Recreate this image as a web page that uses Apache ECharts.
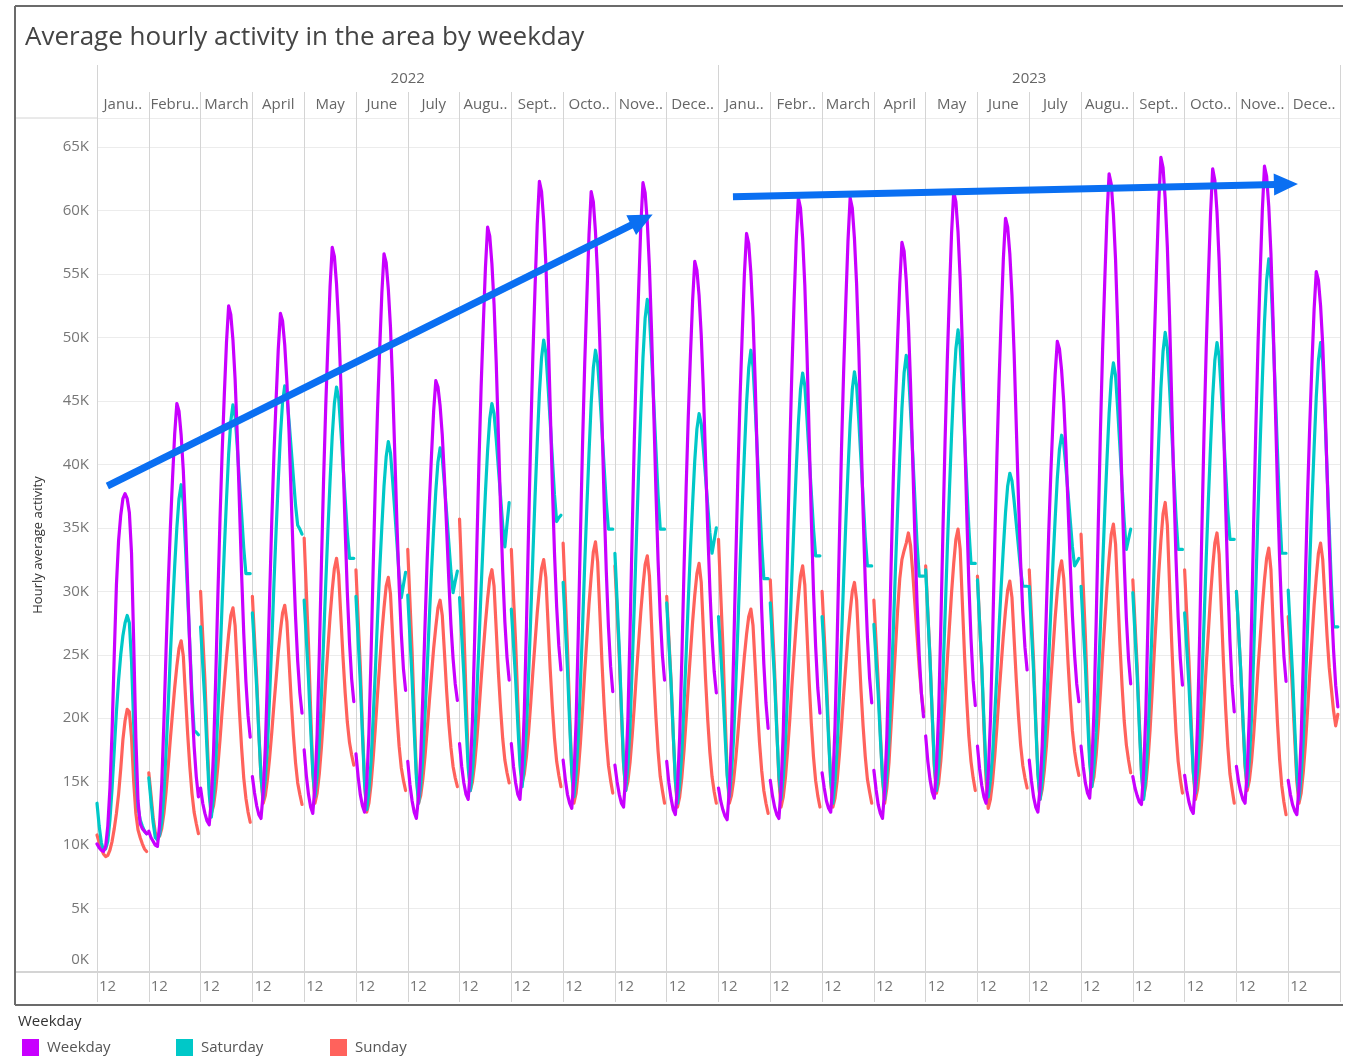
<!DOCTYPE html>
<html>
<head>
<meta charset="utf-8">
<script src="https://cdn.jsdelivr.net/npm/echarts/dist/echarts.min.js"></script>
<style>
html,body{margin:0;padding:0;background:#ffffff;}
#chart{width:1351px;height:1057px;}
</style>
</head>
<body>
<div id="chart"></div>
<script>
// ---------- DATA (values in thousands) ----------
const yearLabels = ['2022', '2023'];
const monthLabels = ['Janu..','Febru..','March','April','May','June','July','Augu..','Sept..','Octo..','Nove..','Dece..',
                     'Janu..','Febr..','March','April','May','June','July','Augu..','Sept..','Octo..','Nove..','Dece..'];
const hourTickLabel = '12';
const seriesNames = ['Weekday', 'Saturday', 'Sunday'];

// one row per month panel, 24 hourly values (hour 0 .. 23)
const weekdayK = [
 [10.1,9.8,9.6,9.5,9.9,11.5,14.5,19.0,25.0,30.5,34.0,36.0,37.3,37.7,37.3,36.2,33.0,26.0,18.5,13.5,11.7,11.3,11.1,10.9],
 [11.1,10.6,10.3,10.0,9.9,11.6,14.8,19.7,25.3,30.5,35.0,38.9,42.4,44.8,44.2,42.3,39.5,35.5,30.5,25.6,21.2,17.8,15.4,13.8],
 [14.5,13.3,12.5,11.9,11.6,13.6,17.3,23.1,29.6,35.7,41.0,45.5,49.6,52.5,51.8,49.8,46.7,42.3,36.9,31.4,26.7,22.9,20.2,18.5],
 [15.4,14.1,13.1,12.4,12.1,14.1,17.7,23.2,29.6,35.6,40.8,45.1,49.1,51.9,51.3,49.4,46.5,42.5,37.4,32.4,28.0,24.5,22.0,20.4],
 [17.5,15.5,14.0,13.0,12.5,14.7,18.7,25.0,32.1,38.8,44.6,49.5,54.0,57.1,56.4,54.2,51.0,46.4,40.6,34.9,29.9,26.0,23.1,21.3],
 [17.2,15.4,14.0,13.1,12.6,14.8,18.8,24.9,32.0,38.6,44.3,49.1,53.5,56.6,55.9,53.8,50.8,46.3,40.8,35.3,30.5,26.7,23.9,22.2],
 [16.6,14.8,13.5,12.6,12.1,13.8,16.9,21.8,27.3,32.5,36.9,40.7,44.2,46.6,46.1,44.6,42.3,39.0,35.0,31.0,27.4,24.7,22.7,21.4],
 [18.0,16.2,14.9,14.0,13.6,15.9,19.9,26.2,33.4,40.2,46.1,51.0,55.5,58.7,58.0,55.8,52.6,48.0,42.3,36.6,31.6,27.6,24.8,23.0],
 [18.0,16.2,14.9,14.0,13.6,16.0,20.4,27.2,35.0,42.3,48.7,54.0,58.9,62.3,61.5,59.2,55.8,50.8,44.6,38.4,33.0,28.8,25.7,23.8],
 [16.7,15.2,14.0,13.3,12.9,15.3,19.7,26.5,34.3,41.6,47.9,53.2,58.1,61.5,60.7,58.3,54.8,49.7,43.4,37.1,31.6,27.2,24.1,22.1],
 [16.3,15.0,14.0,13.3,13.0,15.5,19.9,26.8,34.6,42.0,48.4,53.8,58.8,62.2,61.4,59.1,55.5,50.4,44.2,37.9,32.4,28.1,25.0,23.0],
 [16.6,14.9,13.7,12.8,12.4,14.6,18.5,24.6,31.6,38.1,43.8,48.6,52.9,56.0,55.3,53.3,50.2,45.8,40.4,34.9,30.2,26.4,23.7,22.0],
 [14.5,13.5,12.8,12.3,12.0,14.3,18.5,24.9,32.3,39.3,45.3,50.3,55.0,58.2,57.4,55.1,51.6,46.5,40.3,34.0,28.6,24.3,21.2,19.2],
 [15.1,13.9,13.0,12.4,12.1,14.5,18.9,25.8,33.6,41.0,47.3,52.7,57.6,61.0,60.2,57.8,54.1,48.8,42.3,35.8,30.1,25.7,22.4,20.4],
 [15.7,14.5,13.5,12.9,12.6,15.0,19.4,26.2,33.9,41.2,47.4,52.8,57.6,61.0,60.2,57.8,54.2,49.1,42.7,36.3,30.8,26.4,23.2,21.2],
 [15.9,14.4,13.2,12.5,12.1,14.4,18.5,24.8,32.1,38.9,44.8,49.8,54.3,57.5,56.8,54.5,51.1,46.3,40.3,34.3,29.1,25.0,22.0,20.1],
 [18.6,16.6,15.2,14.2,13.7,16.1,20.4,27.1,34.7,41.9,48.1,53.4,58.2,61.5,60.7,58.3,54.6,49.4,42.9,36.4,30.7,26.3,23.0,21.0],
 [17.8,16.0,14.7,13.8,13.3,15.6,19.8,26.2,33.6,40.5,46.5,51.6,56.2,59.4,58.7,56.6,53.3,48.7,43.0,37.3,32.3,28.4,25.6,23.8],
 [16.7,15.1,13.8,13.0,12.6,14.5,17.8,23.0,28.9,34.5,39.3,43.4,47.1,49.7,49.1,47.4,44.9,41.2,36.6,32.1,28.1,25.0,22.7,21.3],
 [17.8,16.2,14.9,14.1,13.7,16.2,20.6,27.5,35.3,42.7,49.1,54.5,59.5,62.9,62.1,59.7,56.1,50.8,44.4,38.0,32.3,27.9,24.7,22.7],
 [15.4,14.5,13.9,13.4,13.2,15.8,20.3,27.5,35.6,43.3,49.9,55.5,60.6,64.2,63.4,60.9,57.1,51.7,45.1,38.4,32.6,28.0,24.7,22.6],
 [15.5,14.3,13.4,12.8,12.5,15.0,19.6,26.7,34.9,42.5,49.1,54.7,59.7,63.3,62.4,59.9,56.0,50.5,43.6,36.8,30.8,26.1,22.6,20.5],
 [16.2,15.0,14.2,13.6,13.3,15.8,20.3,27.4,35.4,42.9,49.4,55.0,60.0,63.5,62.7,60.3,56.6,51.3,44.8,38.3,32.6,28.2,24.9,22.9],
 [15.1,14.0,13.2,12.7,12.4,14.5,18.4,24.4,31.2,37.7,43.2,47.9,52.2,55.2,54.5,52.5,49.4,44.9,39.4,33.9,29.1,25.4,22.6,20.9]
];

const saturdayK = [
 [13.3,11.5,10.2,9.6,9.7,10.3,12.0,14.5,17.5,20.5,23.0,25.0,26.5,27.5,28.1,27.5,24.5,19.5,15.5,13.0,12.0,11.5,11.1,10.9],
 [15.3,13.5,11.8,10.6,10.4,10.8,11.8,14.0,17.4,21.0,25.0,28.6,32.0,35.0,37.3,38.4,37.0,33.5,29.7,25.8,21.9,19.0,18.9,18.7],
 [27.2,24.2,21.2,17.4,14.0,12.2,13.8,16.4,20.3,24.6,29.1,33.3,37.2,40.8,43.4,44.7,43.8,41.4,38.7,36.1,33.4,31.4,31.4,31.4],
 [28.3,25.4,22.4,18.7,15.4,13.6,15.2,17.8,21.8,26.0,30.6,34.8,38.7,42.3,44.9,46.2,45.4,43.4,41.2,39.0,36.8,35.2,34.9,34.5],
 [29.3,26.2,23.1,19.2,15.7,13.8,15.4,18.0,21.9,26.1,30.6,34.8,38.7,42.2,44.8,46.1,45.2,42.7,40.0,37.3,34.6,32.6,32.6,32.6],
 [29.6,26.2,22.9,18.7,14.8,12.8,14.3,16.6,20.1,23.8,27.9,31.7,35.1,38.3,40.6,41.8,40.9,38.7,36.3,33.8,31.3,29.5,30.5,31.5],
 [29.7,26.4,23.1,19.0,15.3,13.3,14.7,16.9,20.3,23.9,27.9,31.5,34.9,37.9,40.2,41.3,40.5,38.4,36.2,33.9,31.6,29.9,30.8,31.6],
 [29.5,26.5,23.4,19.6,16.1,14.3,15.8,18.3,21.9,25.9,30.2,34.1,37.8,41.1,43.6,44.8,44.0,42.0,39.7,37.5,35.2,33.5,35.3,37.0],
 [28.6,25.8,23.0,19.5,16.3,14.6,16.4,19.2,23.4,28.0,32.9,37.5,41.7,45.6,48.4,49.8,48.8,46.2,43.4,40.5,37.6,35.5,35.8,36.0],
 [30.7,27.3,23.9,19.7,15.8,13.8,15.6,18.4,22.6,27.2,32.1,36.7,40.9,44.8,47.6,49.0,48.0,45.5,42.7,39.8,37.0,34.9,34.9,34.9],
 [33.0,29.3,25.5,20.8,16.5,14.3,16.2,19.3,24.0,29.0,34.4,39.5,44.1,48.4,51.5,53.0,51.7,48.5,44.9,41.2,37.6,34.9,34.9,34.9],
 [29.1,25.9,22.8,18.8,15.2,13.3,14.8,17.3,21.0,25.0,29.3,33.3,36.9,40.3,42.8,44.0,43.2,41.2,39.0,36.8,34.6,33.0,34.0,35.0],
 [28.0,25.2,22.3,18.8,15.5,13.8,15.6,18.4,22.6,27.2,32.1,36.7,40.9,44.8,47.6,49.0,47.7,44.5,40.9,37.3,33.7,31.0,31.0,31.0],
 [29.1,26.0,22.9,19.0,15.5,13.6,15.3,18.0,22.0,26.4,31.1,35.4,39.5,43.2,45.9,47.2,46.2,43.6,40.7,37.8,35.0,32.8,32.8,32.8],
 [28.0,25.1,22.1,18.4,15.1,13.3,15.0,17.7,21.8,26.2,31.0,35.4,39.5,43.2,45.9,47.3,46.2,43.5,40.4,37.4,34.3,32.0,32.0,32.0],
 [27.4,24.6,21.9,18.4,15.3,13.6,15.4,18.2,22.4,26.9,31.8,36.4,40.6,44.4,47.2,48.6,47.4,44.2,40.8,37.3,33.8,31.2,31.2,31.2],
 [31.7,28.2,24.7,20.4,16.4,14.3,16.1,19.0,23.4,28.1,33.2,37.9,42.3,46.2,49.1,50.6,49.3,46.0,42.3,38.6,35.0,32.2,32.2,32.2],
 [30.9,27.5,24.1,19.8,15.9,13.8,15.1,17.1,20.2,23.5,27.1,30.4,33.4,36.2,38.3,39.3,38.7,37.1,35.3,33.5,31.7,30.4,30.4,30.4],
 [30.4,27.0,23.7,19.5,15.6,13.6,15.0,17.3,20.8,24.5,28.5,32.3,35.7,38.9,41.2,42.3,41.6,39.7,37.7,35.6,33.5,32.0,32.3,32.6],
 [30.4,27.2,24.1,20.1,16.5,14.6,16.3,18.9,23.0,27.3,32.0,36.3,40.3,44.0,46.7,48.0,47.0,44.3,41.4,38.4,35.5,33.3,34.1,34.9],
 [29.9,26.6,23.4,19.3,15.6,13.6,15.4,18.4,22.8,27.6,32.7,37.5,41.9,46.0,48.9,50.4,49.2,46.1,42.7,39.3,35.9,33.3,33.3,33.3],
 [28.3,25.5,22.6,19.1,15.8,14.1,15.9,18.7,23.0,27.6,32.6,37.2,41.4,45.3,48.2,49.6,48.5,45.7,42.6,39.5,36.4,34.1,34.1,34.1],
 [30.0,26.9,23.8,20.0,16.4,14.6,16.7,20.0,25.0,30.4,36.2,41.6,46.6,51.2,54.5,56.2,54.6,50.4,45.8,41.1,36.5,33.0,33.0,33.0],
 [30.1,26.8,23.5,19.4,15.6,13.6,15.4,18.3,22.6,27.3,32.3,37.0,41.3,45.3,48.2,49.6,48.0,44.0,39.5,35.0,30.6,27.2,27.2,27.2]
];

const sundayK = [
 [10.8,10.2,9.7,9.3,9.1,9.2,9.6,10.3,11.3,12.5,14.0,16.0,18.3,19.8,20.7,20.5,18.5,15.0,12.5,11.2,10.6,10.1,9.7,9.5],
 [15.7,14.0,12.2,11.0,10.7,10.7,11.3,12.5,14.2,16.2,18.4,20.4,22.4,24.1,25.5,26.1,24.9,21.8,18.8,16.2,14.1,12.6,11.7,10.9],
 [30.0,26.5,23.0,18.6,14.6,12.5,13.1,14.4,16.2,18.3,20.6,22.7,24.8,26.6,28.1,28.7,27.3,24.0,20.6,17.7,15.3,13.7,12.6,11.8],
 [29.6,26.3,23.1,19.0,15.3,13.3,13.9,15.2,16.9,18.9,21.1,23.1,25.2,26.9,28.3,28.9,27.6,24.5,21.4,18.7,16.5,14.9,14.0,13.2],
 [34.2,30.0,25.8,20.6,15.8,13.3,14.1,15.6,17.7,20.2,23.0,25.5,28.0,30.1,31.8,32.6,31.3,28.0,24.8,22.0,19.7,18.1,17.1,16.3],
 [31.7,27.9,24.1,19.3,14.9,12.6,13.3,14.8,16.9,19.3,21.9,24.3,26.7,28.7,30.4,31.1,29.8,26.4,23.0,20.2,17.8,16.1,15.1,14.3],
 [33.3,29.3,25.3,20.3,15.7,13.3,13.9,15.2,17.0,19.1,21.3,23.4,25.5,27.2,28.7,29.3,28.1,25.2,22.2,19.7,17.7,16.2,15.3,14.6],
 [35.7,31.4,27.1,21.8,16.9,14.3,15.0,16.4,18.3,20.6,23.0,25.3,27.5,29.4,31.0,31.7,30.4,27.0,23.6,20.8,18.4,16.7,15.7,14.9],
 [33.3,29.6,25.9,21.3,17.1,14.9,15.6,17.0,18.9,21.2,23.7,26.0,28.3,30.2,31.8,32.5,31.1,27.5,23.9,20.9,18.4,16.6,15.5,14.6],
 [33.8,29.7,25.6,20.5,15.8,13.3,14.1,15.8,18.0,20.7,23.6,26.3,29.0,31.2,33.1,33.9,32.3,28.4,24.4,21.0,18.3,16.3,15.1,14.1],
 [32.0,28.5,24.9,20.5,16.4,14.3,15.0,16.5,18.6,21.0,23.6,26.0,28.4,30.4,32.1,32.8,31.2,27.3,23.4,20.1,17.4,15.4,14.3,13.3],
 [29.6,26.3,23.0,18.8,15.0,13.0,13.8,15.3,17.4,19.9,22.6,25.1,27.6,29.7,31.4,32.2,30.7,26.9,23.1,19.9,17.3,15.4,14.2,13.3],
 [34.1,29.9,25.8,20.6,15.8,13.3,13.9,15.1,16.8,18.8,21.0,22.9,24.9,26.6,28.0,28.6,27.3,24.1,20.9,18.1,15.9,14.3,13.3,12.5],
 [30.9,27.3,23.7,19.3,15.1,13.0,13.8,15.3,17.4,19.8,22.5,25.0,27.4,29.5,31.2,32.0,30.5,26.7,22.9,19.6,17.0,15.1,13.9,13.0],
 [30.0,26.6,23.2,18.9,15.0,13.0,13.7,15.1,17.1,19.4,21.9,24.2,26.5,28.4,30.0,30.7,29.3,25.8,22.3,19.4,17.0,15.2,14.2,13.3],
 [29.3,26.1,22.9,18.9,15.2,13.3,14.5,16.5,19.5,22.5,25.5,28.5,31.0,32.5,33.2,33.8,34.6,33.6,31.5,29.0,26.5,24.0,22.0,20.5],
 [32.0,28.4,24.8,20.4,16.2,14.1,14.9,16.6,18.9,21.6,24.5,27.2,29.9,32.2,34.1,34.9,33.3,29.1,25.0,21.5,18.6,16.6,15.3,14.3],
 [31.2,27.5,23.9,19.3,15.1,12.9,13.6,15.0,17.0,19.3,21.9,24.2,26.5,28.5,30.1,30.8,29.5,26.2,23.0,20.2,17.9,16.3,15.3,14.5],
 [31.7,28.1,24.5,19.9,15.8,13.6,14.4,15.9,17.9,20.4,23.0,25.4,27.9,30.0,31.6,32.4,31.0,27.7,24.3,21.4,19.0,17.4,16.3,15.5],
 [34.5,30.5,26.5,21.6,17.0,14.6,15.4,17.1,19.4,22.1,25.0,27.6,30.3,32.6,34.5,35.3,33.7,29.8,25.9,22.6,19.8,17.9,16.7,15.7],
 [30.9,27.5,24.1,19.8,15.9,13.8,14.7,16.6,19.1,22.2,25.4,28.4,31.4,34.0,36.1,37.0,35.2,30.6,26.0,22.1,18.9,16.6,15.2,14.1],
 [31.7,28.1,24.5,19.9,15.8,13.6,14.4,16.1,18.4,21.2,24.1,26.8,29.6,31.9,33.8,34.6,32.9,28.6,24.4,20.8,17.8,15.6,14.4,13.3],
 [30.0,26.9,23.7,19.8,16.2,14.3,15.1,16.6,18.7,21.2,23.9,26.3,28.8,30.9,32.6,33.4,31.7,27.5,23.3,19.7,16.8,14.7,13.4,12.4],
 [28.0,25.1,22.1,18.4,15.0,13.3,14.1,15.8,18.0,20.7,23.6,26.2,28.9,31.1,33.0,33.8,32.5,29.5,26.5,24.0,22.3,20.6,19.4,20.3]
];

// hand-drawn trend arrows, in data space: [xStart, yStart, xTip, yTip]
const trendArrows = [
  [4.8, 38.3, 257.5, 59.7],
  [294.7, 61.1, 556.5, 62.1]
];

// ---------- BUILD ----------
const HOURS = 24;
const PANELS = monthLabels.length;
const X_MAX = HOURS * PANELS;
const FONT = '"Open Sans", "Noto Sans", sans-serif';
const COLORS = { Weekday: '#c800ff', Saturday: '#00c8c8', Sunday: '#ff625c' };
const ARROW_COLOR = '#0a6ff2';
const GRID_LINE = '#d4d4d4';

function toPoints(rows) {
  const out = [];
  rows.forEach((row, p) => {
    row.forEach((v, h) => out.push([p * HOURS + h, v]));
    out.push([p * HOURS + HOURS - 0.5, null]);
  });
  return out;
}

function lineSeries(name, rows, z) {
  return {
    name, type: 'line', data: toPoints(rows), z,
    symbol: 'none', showSymbol: false, connectNulls: false, smooth: false,
    lineStyle: { width: 3.2, color: COLORS[name], cap: 'round', join: 'round' },
    itemStyle: { color: COLORS[name] },
    emphasis: { disabled: true }
  };
}

const series = [
  lineSeries('Sunday', sundayK, 2),
  lineSeries('Saturday', saturdayK, 3),
  lineSeries('Weekday', weekdayK, 4),
  {
    type: 'custom', name: 'trend', z: 10, silent: true,
    data: trendArrows,
    encode: { x: [0, 2], y: [1, 3] },
    renderItem: function (params, api) {
      const p1 = api.coord([api.value(0), api.value(1)]);
      const p2 = api.coord([api.value(2), api.value(3)]);
      const dx = p2[0] - p1[0], dy = p2[1] - p1[1];
      const len = Math.sqrt(dx * dx + dy * dy);
      const ux = dx / len, uy = dy / len;
      const headLen = 24, headHalf = 11;
      const bx = p2[0] - ux * headLen, by = p2[1] - uy * headLen;
      return {
        type: 'group',
        children: [
          { type: 'line', shape: { x1: p1[0], y1: p1[1], x2: bx + ux * 2, y2: by + uy * 2 },
            style: { stroke: ARROW_COLOR, lineWidth: 7, lineCap: 'butt' } },
          { type: 'polygon', shape: { points: [
              [p2[0], p2[1]],
              [bx - uy * headHalf, by + ux * headHalf],
              [bx + uy * headHalf, by - ux * headHalf]
            ] }, style: { fill: ARROW_COLOR } }
        ]
      };
    }
  }
];

const legendTextStyle = { fontFamily: FONT, fontSize: 15, color: '#555555', padding: [0, 0, 0, 3] };

const chart = echarts.init(document.getElementById('chart'), null, { width: 1351, height: 1057 });
chart.setOption({
  animation: false,
  backgroundColor: '#ffffff',
  textStyle: { fontFamily: FONT },
  title: {
    text: 'Average hourly activity in the area by weekday',
    left: 20, top: 20,
    textStyle: { fontFamily: FONT, fontSize: 26, fontWeight: 'normal', color: '#444444' }
  },
  legend: seriesNames.map((n, i) => ({
    data: [n], left: 22 + i * 154, top: 1039, padding: 0,
    icon: 'rect', itemWidth: 17, itemHeight: 17,
    textStyle: legendTextStyle, selectedMode: false
  })),
  grid: { left: 97, right: 11, top: 118, bottom: 85, containLabel: false },
  xAxis: [
    {
      type: 'value', min: 0, max: X_MAX, interval: HOURS, position: 'bottom',
      axisLine: { show: true, lineStyle: { color: GRID_LINE, width: 2 } },
      axisTick: { show: true, length: 30, lineStyle: { color: GRID_LINE } },
      splitLine: { show: true, lineStyle: { color: GRID_LINE, width: 1 } },
      axisLabel: {
        formatter: v => (v < X_MAX ? hourTickLabel : ''),
        align: 'left', margin: 7, padding: [0, 0, 0, 2],
        color: '#777777', fontSize: 15, fontFamily: FONT
      }
    },
    {
      type: 'category', data: monthLabels, position: 'top', boundaryGap: true,
      axisLine: { show: false },
      axisTick: { show: true, interval: 0, length: 26, lineStyle: { color: GRID_LINE } },
      axisLabel: { interval: 0, margin: 6, color: '#666666', fontSize: 15, fontFamily: FONT, hideOverlap: false },
      splitLine: { show: false }
    },
    {
      type: 'category', data: yearLabels, position: 'top', boundaryGap: true,
      axisLine: { show: false },
      axisTick: { show: true, interval: 0, length: 53, lineStyle: { color: GRID_LINE } },
      axisLabel: { interval: 0, margin: 32, color: '#666666', fontSize: 15, fontFamily: FONT },
      splitLine: { show: false }
    }
  ],
  yAxis: {
    type: 'value', min: 0, max: 67.3, interval: 5,
    name: 'Hourly average activity', nameLocation: 'middle', nameGap: 52,
    nameTextStyle: { fontFamily: FONT, fontSize: 13, color: '#333333' },
    axisLine: { show: false }, axisTick: { show: false },
    splitLine: { show: true, lineStyle: { color: '#ececec', width: 1 } },
    axisLabel: {
      formatter: v => (v === 0 ? '{zero|0K}' : (Math.abs(v % 5) < 1e-6 ? v + 'K' : '')),
      rich: { zero: { padding: [0, 0, 24, 0], fontSize: 15, color: '#777777', fontFamily: FONT } },
      margin: 8, color: '#777777', fontSize: 15, fontFamily: FONT
    }
  },
  graphic: [
    { type: 'line', shape: { x1: 15, y1: 118, x2: 97, y2: 118 }, style: { stroke: GRID_LINE, lineWidth: 1 }, silent: true },
    { type: 'line', shape: { x1: 15, y1: 972, x2: 97, y2: 972 }, style: { stroke: GRID_LINE, lineWidth: 2 }, silent: true },
    { type: 'line', shape: { x1: 15, y1: 6, x2: 1343, y2: 6 }, style: { stroke: '#6b6b6b', lineWidth: 2 }, silent: true },
    { type: 'line', shape: { x1: 15, y1: 6, x2: 15, y2: 1005 }, style: { stroke: '#6b6b6b', lineWidth: 2 }, silent: true },
    { type: 'line', shape: { x1: 15, y1: 1005, x2: 1343, y2: 1005 }, style: { stroke: '#6b6b6b', lineWidth: 2 }, silent: true },
    { type: 'text', left: 18, top: 1014, style: { text: 'Weekday', fontFamily: FONT, fontSize: 15, fill: '#333333' }, silent: true }
  ],
  series
});
</script>
</body>
</html>
